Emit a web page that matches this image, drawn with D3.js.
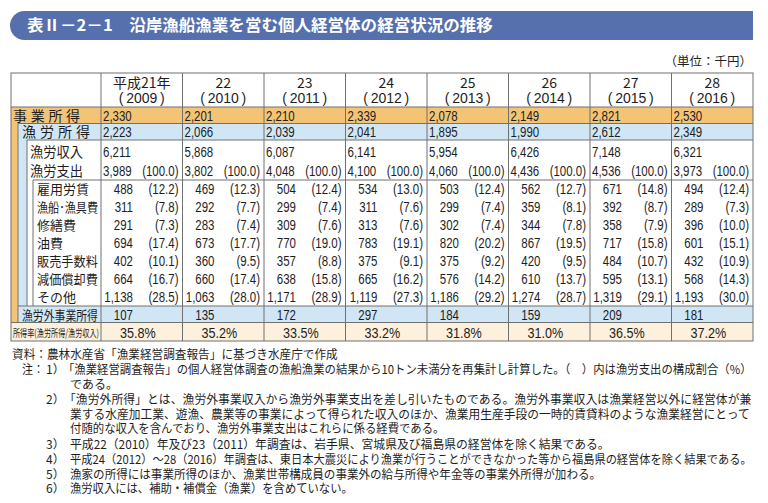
<!DOCTYPE html>
<html>
<head>
<meta charset="utf-8">
<script src="https://cdn.jsdelivr.net/npm/d3@7"></script>
<style>
body { margin: 0; background: #fff; }
</style>
</head>
<body>
<svg id="chart" width="768" height="503"></svg>
<script>
// data (unit: 1,000 yen)
var eraYears = ["平成21年", "22", "23", "24", "25", "26", "27", "28"];
var westYears = ["2009", "2010", "2011", "2012", "2013", "2014", "2015", "2016"];

var jigyoShotoku = [2330, 2201, 2210, 2339, 2078, 2149, 2821, 2530];
var gyoroShotoku = [2223, 2066, 2039, 2041, 1895, 1990, 2612, 2349];
var gyoroShunyu = [6211, 5868, 6087, 6141, 5954, 6426, 7148, 6321];
var gyoroShishutsu = [3989, 3802, 4048, 4100, 4060, 4436, 4536, 3973];
var shishutsuShare = [100.0, 100.0, 100.0, 100.0, 100.0, 100.0, 100.0, 100.0];

var costLabels = ["雇用労賃", "漁船･漁具費", "修繕費", "油費", "販売手数料", "減価償却費", "その他"];
var costValues = [
  [488, 469, 504, 534, 503, 562, 671, 494],
  [311, 292, 299, 311, 299, 359, 392, 289],
  [291, 283, 309, 313, 302, 344, 358, 396],
  [694, 673, 770, 783, 820, 867, 717, 601],
  [402, 360, 357, 375, 375, 420, 484, 432],
  [664, 660, 638, 665, 576, 610, 595, 568],
  [1138, 1063, 1171, 1119, 1186, 1274, 1319, 1193]
];
var costShares = [
  [12.2, 12.3, 12.4, 13.0, 12.4, 12.7, 14.8, 12.4],
  [7.8, 7.7, 7.4, 7.6, 7.4, 8.1, 8.7, 7.3],
  [7.3, 7.4, 7.6, 7.6, 7.4, 7.8, 7.9, 10.0],
  [17.4, 17.7, 19.0, 19.1, 20.2, 19.5, 15.8, 15.1],
  [10.1, 9.5, 8.8, 9.1, 9.2, 9.5, 10.7, 10.9],
  [16.7, 17.4, 15.8, 16.2, 14.2, 13.7, 13.1, 14.3],
  [28.5, 28.0, 28.9, 27.3, 29.2, 28.7, 29.1, 30.0]
];
var gyorogaiShotoku = [107, 135, 172, 297, 184, 159, 209, 181];
var shotokuRitsu = [35.8, 35.2, 33.5, 33.2, 31.8, 31.0, 36.5, 37.2];

var titleText = "表Ⅱ－2－1　沿岸漁船漁業を営む個人経営体の経営状況の推移";
var notes = [
  {x: 12, y: 355, w: 326, t: "資料：農林水産省「漁業経営調査報告」に基づき水産庁で作成"},
  {x: 22, y: 370, w: 22, t: "注："},
  {x: 46, y: 370, w: 0, t: "1）"},
  {x: 63, y: 370, w: 689, t: "「漁業経営調査報告」の個人経営体調査の漁船漁業の結果から10トン未満分を再集計し計算した。（　）内は漁労支出の構成割合（%）"},
  {x: 70, y: 384.5, w: 0, t: "である。"},
  {x: 46, y: 400, w: 0, t: "2）"},
  {x: 64, y: 400, w: 688, t: "「漁労外所得」とは、漁労外事業収入から漁労外事業支出を差し引いたものである。漁労外事業収入は漁業経営以外に経営体が兼"},
  {x: 70, y: 414.5, w: 680, t: "業する水産加工業、遊漁、農業等の事業によって得られた収入のほか、漁業用生産手段の一時的賃貸料のような漁業経営にとって"},
  {x: 70, y: 429, w: 375, t: "付随的な収入を含んでおり、漁労外事業支出はこれらに係る経費である。"},
  {x: 46, y: 445, w: 0, t: "3）"},
  {x: 70, y: 445, w: 540, t: "平成22（2010）年及び23（2011）年調査は、岩手県、宮城県及び福島県の経営体を除く結果である。"},
  {x: 46, y: 460, w: 0, t: "4）"},
  {x: 70, y: 460, w: 682, t: "平成24（2012）～28（2016）年調査は、東日本大震災により漁業が行うことができなかった等から福島県の経営体を除く結果である。"},
  {x: 46, y: 475, w: 0, t: "5）"},
  {x: 70, y: 475, w: 532, t: "漁家の所得には事業所得のほか、漁業世帯構成員の事業外の給与所得や年金等の事業外所得が加わる。"},
  {x: 46, y: 489, w: 0, t: "6）"},
  {x: 70, y: 489, w: 283, t: "漁労収入には、補助・補償金（漁業）を含めていない。"}
];

var jpFont = "'Noto Sans CJK JP', 'Noto Sans', sans-serif";
var latFont = "'Liberation Sans', Arial, sans-serif";
var fmt = d3.format(",");
var fmt1 = d3.format(".1f");
var lineCol = "#707070";
var ink = "#1e1e1e";
var narrow = 0.82;   // the table figures are set in a condensed face

var svg = d3.select("#chart");

// squeeze or stretch a text horizontally so that it spans w pixels
function fitText(sel, tx, ty, w) {
  var len = sel.node().getComputedTextLength();
  var k = w && len ? w / len : 1;
  sel.attr("transform", "translate(" + tx + "," + ty + ") scale(" + k + ",1)");
  return sel;
}

// table frame
var tLeft = 11, tRight = 753, tTop = 73, tBottom = 341;
var x = d3.scaleBand().domain(d3.range(eraYears.length)).range([101, tRight]);
var bw = x.bandwidth();
var yCost = d3.scaleBand().domain(costLabels).range([180, 306]);

// title bar
svg.append("path")
  .attr("d", "M24.5,11 H753 V40 H24.5 A14.5,14.5 0 0 1 24.5,11 Z")
  .attr("fill", "#5670ad");
fitText(svg.append("text")
  .style("font-family", jpFont).style("font-weight", "bold").style("font-size", "16px")
  .attr("fill", "#fff")
  .text(titleText), 27, 31, 466);

svg.append("text")
  .attr("x", 752).attr("y", 66)
  .attr("text-anchor", "end")
  .style("font-family", jpFont).style("font-size", "12.5px")
  .attr("fill", ink)
  .text("（単位：千円）");

// backgrounds
svg.append("rect").attr("x", tLeft).attr("y", 107).attr("width", tRight - tLeft).attr("height", 215.5).attr("fill", "#f3c475");
svg.append("rect").attr("x", 18).attr("y", 123.5).attr("width", tRight - 18).attr("height", 199).attr("fill", "#d0e6f5");
svg.append("rect").attr("x", 27).attr("y", 140).attr("width", tRight - 27).attr("height", 166).attr("fill", "#fff");
svg.append("rect").attr("x", tLeft).attr("y", 322.5).attr("width", tRight - tLeft).attr("height", tBottom - 322.5).attr("fill", "#fdf0dc");

// grid lines
var hLines = [[tLeft, 107], [18, 123.5], [27, 140], [33, 180], [18, 306], [tLeft, 322.5]];
svg.selectAll(".hline").data(hLines).enter().append("line")
  .attr("x1", function(d) { return d[0]; }).attr("x2", tRight)
  .attr("y1", function(d) { return d[1]; }).attr("y2", function(d) { return d[1]; })
  .attr("stroke", lineCol).attr("stroke-width", 1);
var vLines = [[18, 123.5, 322.5], [27, 140, 306], [33, 180, 306]];
svg.selectAll(".vline").data(vLines).enter().append("line")
  .attr("x1", function(d) { return d[0]; }).attr("x2", function(d) { return d[0]; })
  .attr("y1", function(d) { return d[1]; }).attr("y2", function(d) { return d[2]; })
  .attr("stroke", lineCol).attr("stroke-width", 1);
svg.selectAll(".colline").data(d3.range(eraYears.length)).enter().append("line")
  .attr("x1", function(i) { return x(i); }).attr("x2", function(i) { return x(i); })
  .attr("y1", tTop).attr("y2", tBottom)
  .attr("stroke", lineCol).attr("stroke-width", 1);
svg.append("rect")
  .attr("x", tLeft).attr("y", tTop).attr("width", tRight - tLeft).attr("height", tBottom - tTop)
  .attr("fill", "none").attr("stroke", lineCol).attr("stroke-width", 1);

// header: era year over western year
svg.append("g").selectAll("text").data(eraYears).enter().append("text")
  .attr("x", function(d, i) { return x(i) + bw / 2; }).attr("y", 87.5)
  .attr("text-anchor", "middle")
  .style("font-family", jpFont).style("font-size", "14px").attr("fill", ink)
  .text(function(d) { return d; });
svg.append("g").selectAll("text").data(westYears).enter().append("text")
  .attr("x", function(d, i) { return x(i) + bw / 2; }).attr("y", 103)
  .attr("text-anchor", "middle")
  .style("font-family", latFont).style("font-size", "14px").attr("fill", ink)
  .text(function(d) { return "(\u2009" + d + "\u2009)"; });

// row labels
function label(txt, lx, ly, size, w, spacing) {
  var t = svg.append("text")
    .style("font-family", jpFont).style("font-size", size + "px").attr("fill", ink)
    .text(txt);
  if (spacing) {
    return t.attr("x", lx).attr("y", ly).style("letter-spacing", spacing + "px");
  }
  return fitText(t, lx, ly, w);
}
label("事業所得", 13, 120.5, 14, null, 3.7);
label("漁労所得", 22, 137, 14, null, 4);
label("漁労収入", 30, 157, 13.5, 53);
label("漁労支出", 30, 176, 13.5, 53);
costLabels.forEach(function(c) {
  var w = c.length >= 5 ? 61 : null;
  label(c, 37, yCost(c) + yCost.bandwidth() / 2 + 5, 13, w);
});
label("漁労外事業所得", 22, 320, 13, 76);
label("所得率(漁労所得/漁労収入)", 13, 337, 10.5, 86);

// cells, condensed horizontally around their anchor point
function cells(vals, cy, anchor, dx, f, k) {
  svg.append("g").selectAll("text").data(vals).enter().append("text")
    .attr("transform", function(d, i) {
      return "translate(" + (x(i) + dx) + "," + cy + ") scale(" + (k || narrow) + ",1)";
    })
    .attr("text-anchor", anchor)
    .style("font-family", latFont).style("font-size", "14px").attr("fill", ink)
    .text(f);
}
function paren(d) { return "(" + fmt1(d) + ")"; }
cells(jigyoShotoku, 120.5, "start", 2, fmt);
cells(gyoroShotoku, 137, "start", 2, fmt);
cells(gyoroShunyu, 157, "start", 2, fmt);
cells(gyoroShishutsu, 176, "start", 2, fmt);
cells(shishutsuShare, 176, "end", bw - 4, paren);
costLabels.forEach(function(c, r) {
  var cy = yCost(c) + yCost.bandwidth() / 2 + 5;
  cells(costValues[r], cy, "end", 32, fmt);
  cells(costShares[r], cy, "end", bw - 4, paren);
});
cells(gyorogaiShotoku, 320, "end", 32, fmt);
cells(shotokuRitsu, 338, "middle", bw / 2 - 4, function(d) { return fmt1(d) + "%"; }, 0.9);

// notes
svg.append("g").selectAll("text").data(notes).enter().append("text")
  .style("font-family", jpFont).style("font-size", "12px").attr("fill", ink)
  .text(function(d) { return d.t; })
  .each(function(d) { fitText(d3.select(this), d.x, d.y + 4, d.w); });
</script>
</body>
</html>
